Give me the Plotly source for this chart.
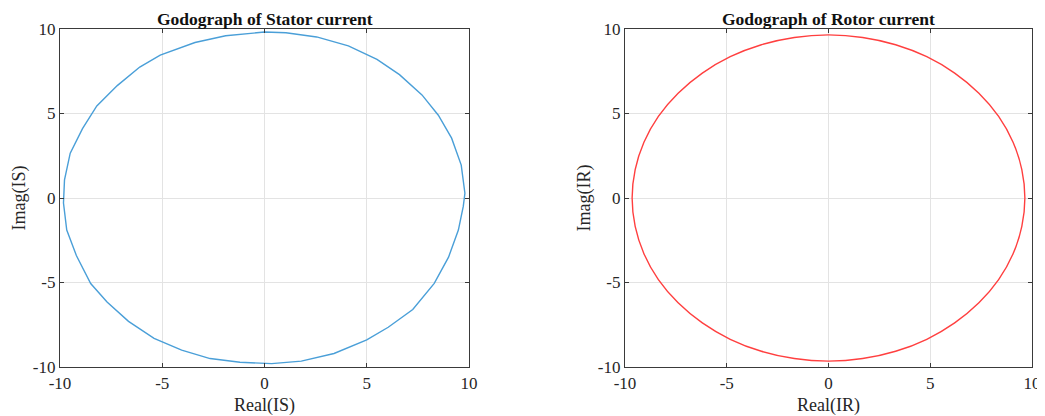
import plotly.graph_objects as go

# Stator current godograph vertices
is_real = [0.00, 1.05, 2.55, 4.10, 5.50, 6.60, 7.70, 8.50, 9.15, 9.62, 9.80,
           9.72, 9.48, 9.00, 8.30, 7.25, 6.05, 5.00, 3.40, 1.80, 0.35,
           -1.20, -2.66, -4.05, -5.40, -6.65, -7.70, -8.50, -9.20, -9.67, -9.83,
           -9.78, -9.50, -8.90, -8.20, -7.20, -6.10, -5.10, -3.40, -1.90, 0.00]
is_imag = [9.82, 9.78, 9.53, 9.00, 8.20, 7.30, 6.10, 4.90, 3.54, 1.95, 0.28,
           -0.50, -1.90, -3.50, -5.05, -6.60, -7.65, -8.40, -9.20, -9.65, -9.80,
           -9.72, -9.50, -9.00, -8.30, -7.30, -6.15, -5.06, -3.40, -1.90, -0.30,
           1.07, 2.65, 4.10, 5.45, 6.65, 7.75, 8.45, 9.20, 9.60, 9.82]

# Rotor current godograph points
ir_real = [9.65, 9.50, 9.07, 8.36, 7.39, 6.20, 4.83, 3.30, 1.68, 0.00,
           -1.68, -3.30, -4.83, -6.20, -7.39, -8.36, -9.07, -9.50, -9.65,
           -9.50, -9.07, -8.36, -7.39, -6.20, -4.83, -3.30, -1.68, 0.00,
           1.68, 3.30, 4.83, 6.20, 7.39, 8.36, 9.07, 9.50, 9.65]
ir_imag = [0.00, 1.68, 3.30, 4.83, 6.20, 7.39, 8.36, 9.07, 9.50, 9.65,
           9.50, 9.07, 8.36, 7.39, 6.20, 4.83, 3.30, 1.68, 0.00,
           -1.68, -3.30, -4.83, -6.20, -7.39, -8.36, -9.07, -9.50, -9.65,
           -9.50, -9.07, -8.36, -7.39, -6.20, -4.83, -3.30, -1.68, 0.00]

tick_vals = [-10, -5, 0, 5, 10]
tick_text = ["-10", "-5", "0", "5", "10"]

titles = ["Godograph of Stator current", "Godograph of Rotor current"]
xlabels = ["Real(IS)", "Real(IR)"]
ylabels = ["Imag(IS)", "Imag(IR)"]

# page body has an 8px margin: figure sits at (8, 8) in the window
OFF = 8
W, H = 1045 - OFF, 416 - OFF
FONT = "Liberation Serif, Times New Roman, serif"
TXT = "#262626"

fig = go.Figure()
fig.add_trace(go.Scatter(x=is_real, y=is_imag, mode="lines",
                         line=dict(color="#4a9fd8", width=1.4),
                         xaxis="x", yaxis="y", showlegend=False))
fig.add_trace(go.Scatter(x=ir_real, y=ir_imag, mode="lines",
                         line=dict(color="#ff3f3f", width=1.4, shape="spline"),
                         xaxis="x2", yaxis="y2", showlegend=False))

doms = [((60 - OFF) / W, (469 - OFF) / W), ((625 - OFF) / W, (1032 - OFF) / W)]
ydom = (1 - (367 - OFF) / H, 1 - (29 - OFF) / H)

def ax(dom, title, anchor, standoff):
    return dict(domain=list(dom), range=[-10, 10], tickvals=tick_vals, ticktext=tick_text,
                showgrid=True, gridcolor="#e3e3e3", gridwidth=1, zeroline=False,
                showline=True, linecolor="#3a3a3a", linewidth=1.2, mirror="ticks",
                ticks="inside", ticklen=4, tickcolor="#3a3a3a", anchor=anchor,
                automargin=False,
                tickfont=dict(family=FONT, size=17, color=TXT),
                title=dict(text=title, font=dict(family=FONT, size=18, color=TXT),
                           standoff=standoff))

layout = dict(width=W, height=H, margin=dict(l=0, r=0, t=0, b=0),
              paper_bgcolor="white", plot_bgcolor="white")
layout["xaxis"] = ax(doms[0], xlabels[0], "y", 6)
layout["yaxis"] = ax(ydom, ylabels[0], "x", 2)
layout["xaxis2"] = ax(doms[1], xlabels[1], "y2", 6)
layout["yaxis2"] = ax(ydom, ylabels[1], "x2", 2)
fig.update_layout(**layout)

for i, t in enumerate(titles):
    fig.add_annotation(text="<b>" + t + "</b>", xref="paper", yref="paper",
                       x=(doms[i][0] + doms[i][1]) / 2, y=1,
                       xanchor="center", yanchor="top", showarrow=False,
                       borderpad=0,
                       font=dict(family=FONT, size=17.5, color="#111111"))

fig.write_html("out.html")
